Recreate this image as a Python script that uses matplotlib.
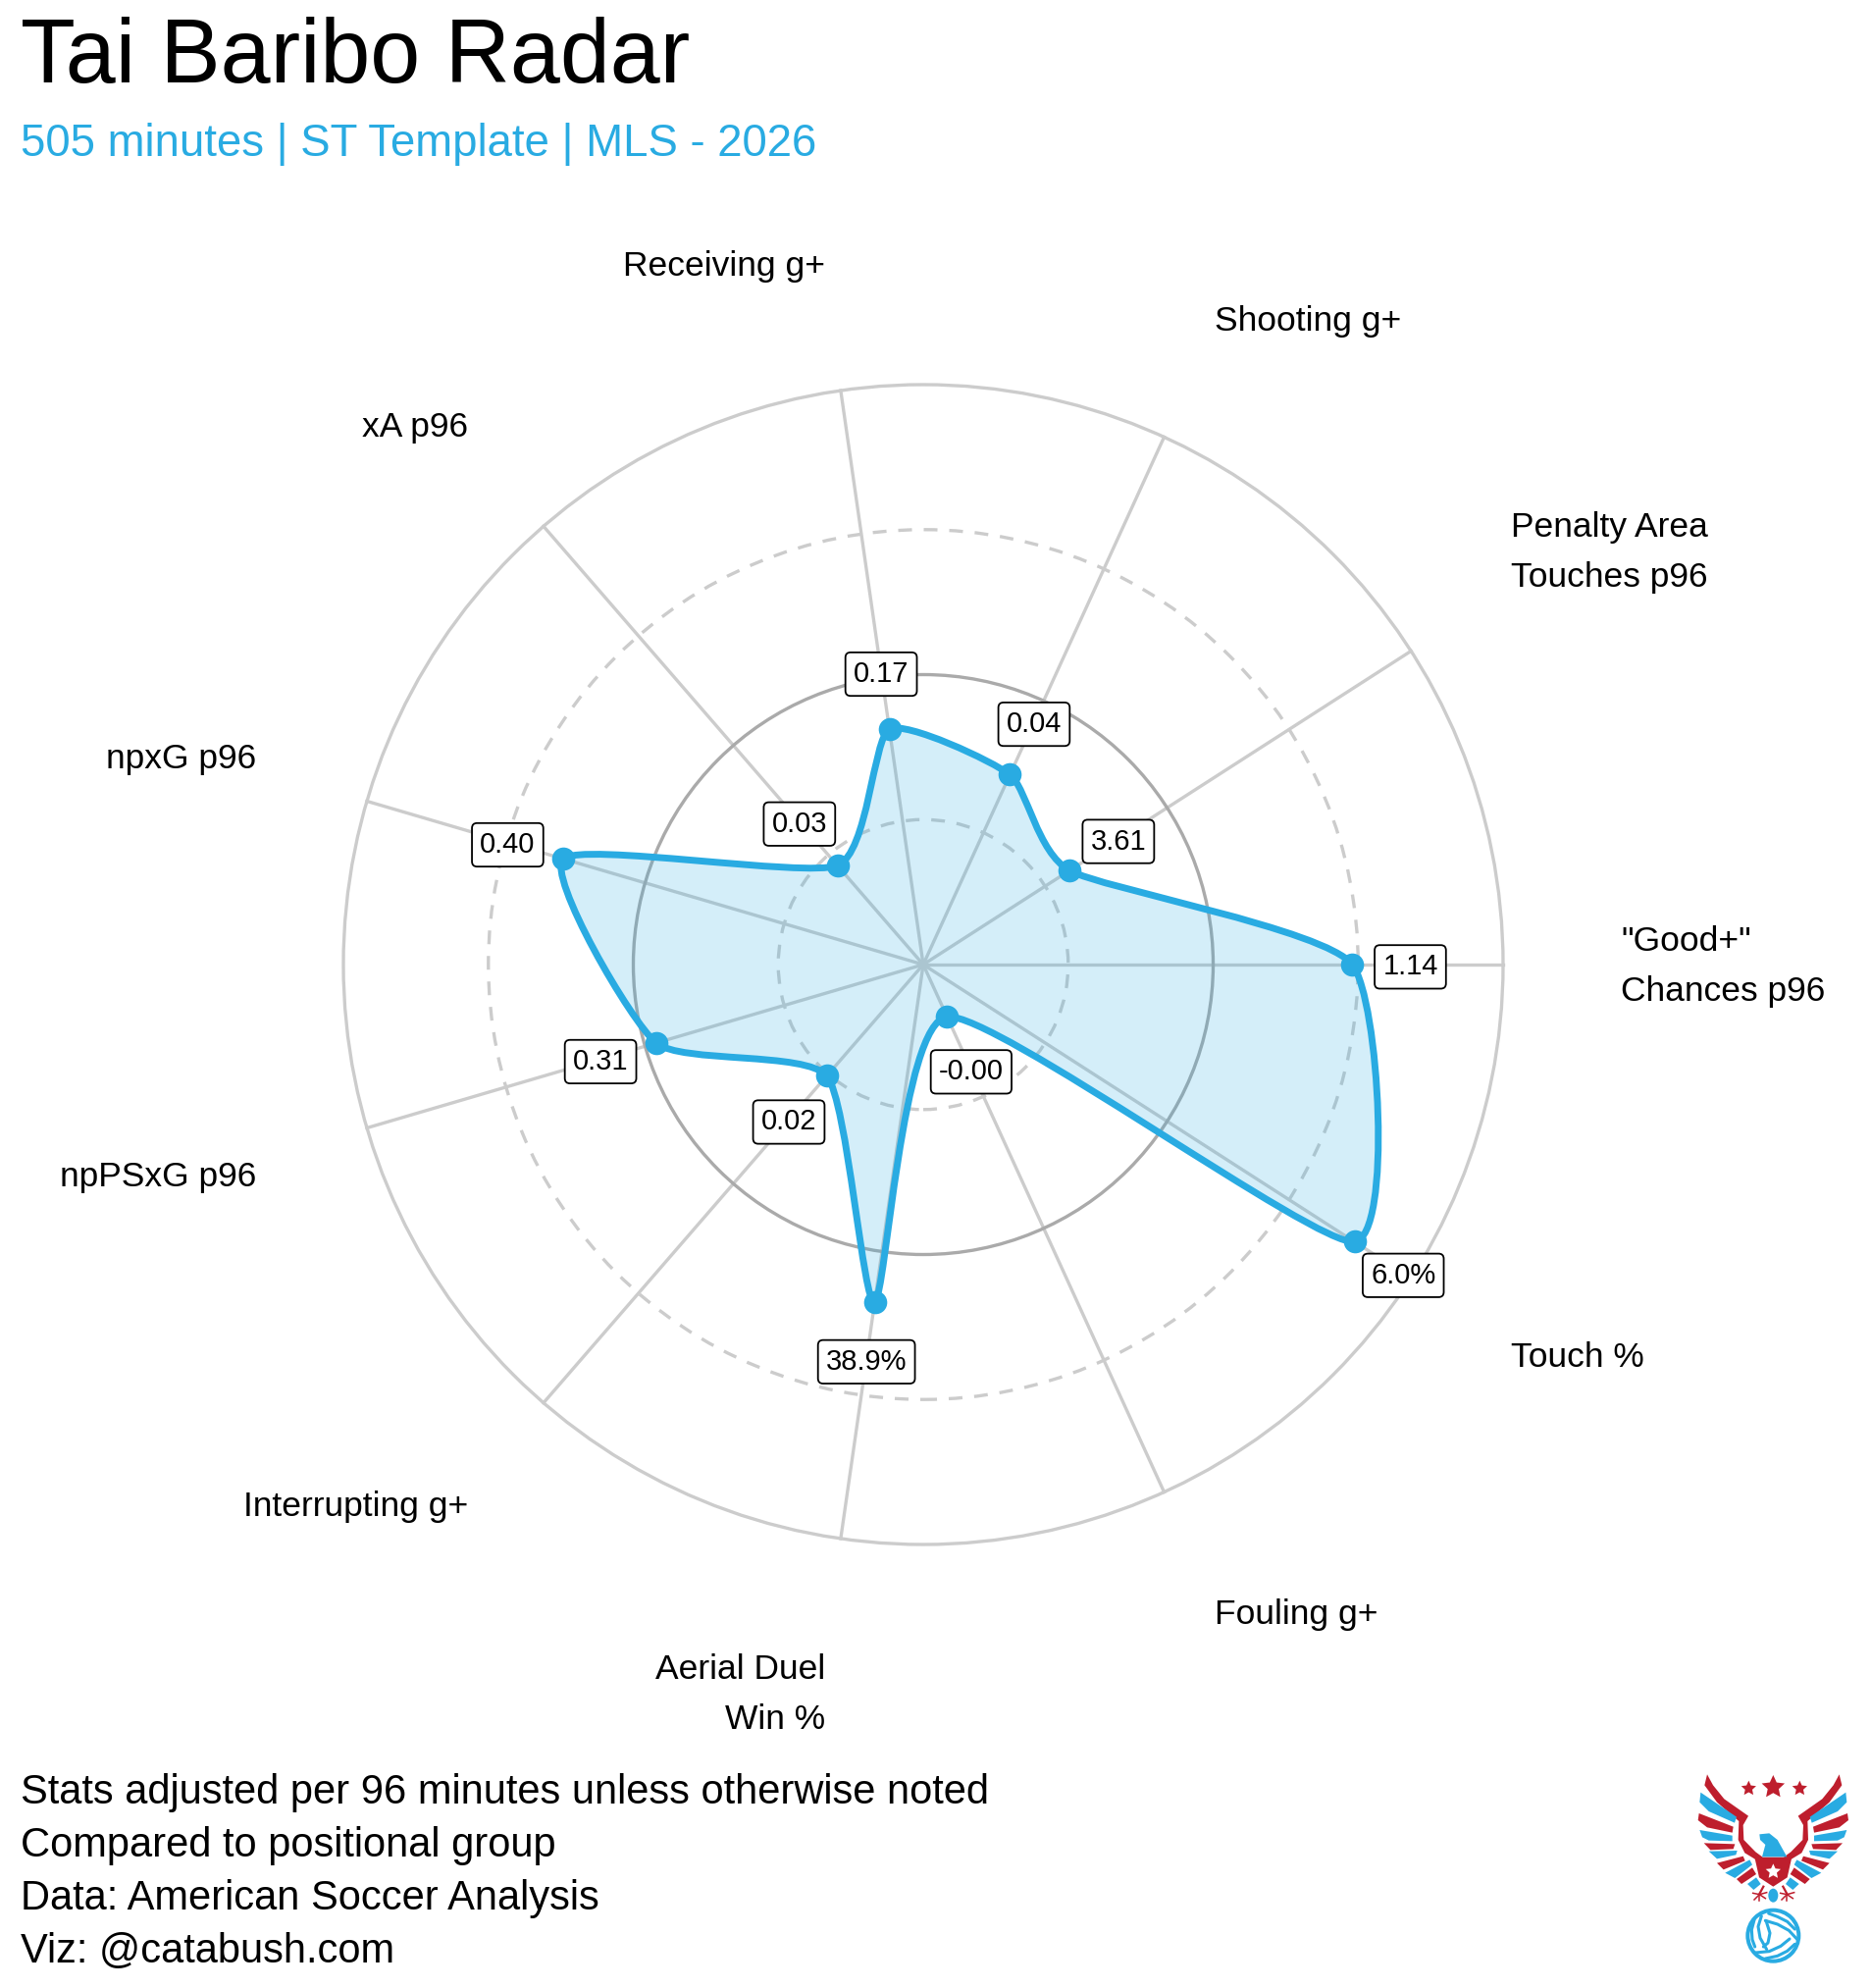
"""
Radar chart - Tai Baribo, ST template
"""
import numpy as np
import matplotlib
matplotlib.use('Agg')
import matplotlib.pyplot as plt
from matplotlib.patches import Circle, Polygon, PathPatch, Ellipse
from matplotlib.path import Path

plt.rcParams['font.family'] = ['Liberation Sans', 'DejaVu Sans']

W, H = 1908, 2026
BLUE = '#29ABE2'
RED = '#BE1E2D'

# data, counter clockwise from 3 o'clock
metrics = ['"Good+"\nChances p96', 'Penalty Area\nTouches p96', 'Shooting g+', 'Receiving g+',
           'xA p96', 'npxG p96', 'npPSxG p96', 'Interrupting g+', 'Aerial Duel\nWin %',
           'Fouling g+', 'Touch %']
percentiles = [74, 30, 36, 41, 22.6, 64.7, 48, 25.4, 58.8, 9.9, 88.4]
raw_labels = ['1.14', '3.61', '0.04', '0.17', '0.03', '0.40', '0.31', '0.02', '38.9%', '-0.00', '6.0%']
rings = [25, 50, 75, 100]

# pixel spot and alignment of each metric name
label_spots = [(1652, 985), (1540, 563), (1238, 327), (841, 271), (477, 436),
               (261, 773), (261, 1199), (477, 1535), (841, 1727), (1238, 1645), (1540, 1383)]
label_align = ['left', 'left', 'left', 'right', 'right', 'right', 'right', 'right', 'right', 'left', 'left']


def cardinal_path(x, y, k=0.1):
    """closed spline through all points as bezier segments"""
    n = len(x)
    verts = [(x[0], y[0])]
    codes = [Path.MOVETO]
    for i in range(n):
        p, a, b, q = [(i - 1) % n, i, (i + 1) % n, (i + 2) % n]
        verts.append((x[a] + k * (x[b] - x[p]), y[a] + k * (y[b] - y[p])))
        verts.append((x[b] - k * (x[q] - x[a]), y[b] - k * (y[q] - y[a])))
        verts.append((x[b], y[b]))
        codes += [Path.CURVE4] * 3
    return Path(verts, codes)


def draw_logo(fig):
    ax = fig.add_axes([1700 / W, 0, 208 / W, 246 / H])
    ax.set_xlim(0, 624)
    ax.set_ylim(738, 0)
    ax.axis('off')

    def star(cx, cy, r, color):
        ang = np.pi / 2 + np.arange(10) * np.pi / 5
        rad = np.where(np.arange(10) % 2 == 0, r, r * 0.48)
        pts = np.c_[cx + rad * np.cos(ang), cy - rad * np.sin(ang)]
        ax.add_patch(Polygon(pts, closed=True, color=color, lw=0))

    wing = [
        (RED, [(120, 85), (138, 118), (172, 160), (246, 212), (230, 240), (232, 285), (268, 322),
               (290, 338), (268, 345), (235, 325), (215, 285), (217, 228), (150, 170), (112, 118)]),
        (BLUE, [(100, 140), (210, 215), (204, 233), (125, 198), (97, 170)]),
        (RED, [(95, 204), (200, 245), (197, 263), (120, 247), (92, 225)]),
        (BLUE, [(97, 255), (197, 272), (197, 289), (125, 287), (105, 277)]),
        (RED, [(110, 295), (205, 298), (200, 313), (130, 316)]),
        (BLUE, [(125, 320), (212, 318), (208, 331), (150, 343)]),
        (RED, [(150, 356), (230, 335), (236, 349), (170, 376)]),
        (BLUE, [(175, 386), (250, 346), (258, 361), (205, 402)]),
        (RED, [(210, 405), (258, 370), (270, 390), (225, 420)]),
        (BLUE, [(243, 420), (270, 400), (284, 420), (262, 438)]),
    ]
    for color, pts in wing:
        ax.add_patch(Polygon(pts, closed=True, color=color, lw=0))
        mirrored = [(644 - px, py) for px, py in pts]
        ax.add_patch(Polygon(mirrored, closed=True, color=color, lw=0))

    ax.add_patch(Polygon([(265, 338), (379, 338), (365, 400), (322, 428), (279, 400)], closed=True, color=RED, lw=0))
    ax.add_patch(Polygon([(280, 268), (310, 265), (335, 285), (364, 337), (288, 337), (298, 300), (282, 285)],
                         closed=True, color=BLUE, lw=0))
    star(322, 382, 24, 'white')
    star(322, 124, 37, RED)
    star(247, 128, 24, RED)
    star(403, 128, 24, RED)
    ax.add_patch(Ellipse((322, 455), 30, 42, color=BLUE, lw=0))
    for sign in (-1, 1):
        ax.plot([322 + sign * 30, 322 + sign * 42], [428, 450], color=RED, lw=1.6)
        for dx, dy in [(-20, -4), (-16, 16), (0, 20), (18, 12), (22, -6)]:
            ax.plot([322 + sign * 42, 322 + sign * 42 + dx], [452, 452 + dy], color=RED, lw=1.1)

    # ball
    ax.add_patch(Circle((322, 578), 84, color=BLUE, lw=0))
    ax.add_patch(Circle((322, 578), 72, color='white', lw=0))
    seams = [
        ([264, 256, 258, 266], [530, 560, 590, 612]),
        ([286, 276, 282, 302], [518, 550, 585, 620]),
        ([308, 335, 365, 388], [510, 520, 535, 558]),
        ([298, 335, 370, 396], [532, 543, 562, 590]),
        ([300, 312, 306, 292], [532, 570, 600, 612]),
        ([268, 310, 345, 372], [630, 626, 610, 588]),
        ([298, 335, 365, 388], [648, 640, 625, 604]),
    ]
    for sx, sy in seams:
        ax.plot(sx, sy, color=BLUE, lw=2.2, solid_capstyle='round')


fig = plt.figure(figsize=(W / 100, H / 100), dpi=100, facecolor='white')

# radar axes, one unit of percentile is 5.91 px
unit = 5.91
cx, cy = 941, 983
ax = fig.add_axes([0, 0, 1, 1])
ax.set_xlim(-cx / unit, (W - cx) / unit)
ax.set_ylim(-(H - cy) / unit, cy / unit)
ax.axis('off')

angles = np.arange(len(metrics)) * 2 * np.pi / len(metrics)
vals = np.array(percentiles)
xs, ys = vals * np.cos(angles), vals * np.sin(angles)

# grid
for a in angles:
    ax.plot([0, 100 * np.cos(a)], [0, 100 * np.sin(a)], color='#CCCCCC', lw=2.4, zorder=1)
ring_style = {25: ('#CCCCCC', (0, (4.2, 3.6))), 50: ('#AAAAAA', 'solid'),
              75: ('#CCCCCC', (0, (4.2, 3.6))), 100: ('#CCCCCC', 'solid')}
for r in rings:
    color, ls = ring_style[r]
    ax.add_patch(Circle((0, 0), r, fill=False, ec=color, lw=2.4, ls=ls, zorder=1))

# radar shape
path = cardinal_path(xs, ys, k=0.095)
ax.add_patch(PathPatch(path, fc=BLUE, alpha=0.2, lw=0, zorder=2))
ax.add_patch(PathPatch(path, fc='none', ec=BLUE, lw=5, zorder=3))
ax.plot(xs, ys, 'o', color=BLUE, ms=17, mew=0, zorder=4)

# raw values sit 10 units outside of the point, text box hangs a bit low
for a, v, txt in zip(angles, vals, raw_labels):
    ax.text((v + 10) * np.cos(a), (v + 10) * np.sin(a) - 0.4, txt, fontsize=21, ha='center', va='center', zorder=5,
            bbox=dict(boxstyle='round,pad=0.28,rounding_size=0.18', fc='white', ec='black', lw=1.3))

for name, (lx, ly), al in zip(metrics, label_spots, label_align):
    fig.text(lx / W, 1 - ly / H, name, fontsize=25.5, ha=al, va='center', linespacing=1.66, color='black')

fig.text(21 / W, 1 - 60 / H, 'Tai Baribo Radar', fontsize=66, va='center', color='black')
fig.text(21 / W, 1 - 147 / H, '505 minutes | ST Template | MLS - 2026', fontsize=32.8, va='center', color=BLUE)

footer = ['Stats adjusted per 96 minutes unless otherwise noted', 'Compared to positional group',
          'Data: American Soccer Analysis', 'Viz: @catabush.com']
for i, line in enumerate(footer):
    fig.text(21 / W, 1 - (1827 + i * 54) / H, line, fontsize=30, va='center', color='black')

draw_logo(fig)

fig.savefig('out.png', dpi=100)
